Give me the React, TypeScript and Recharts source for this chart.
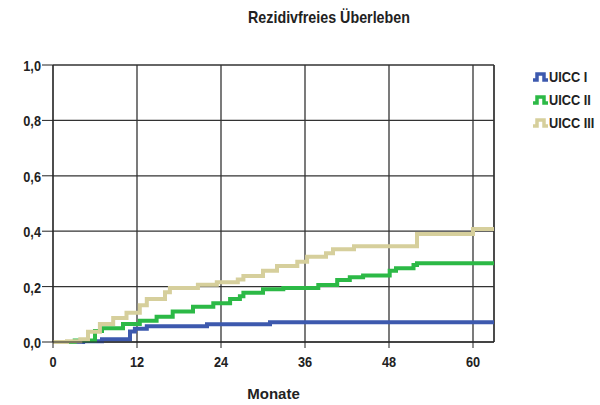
import {
  LineChart,
  Line,
  XAxis,
  YAxis,
  CartesianGrid,
  ReferenceLine,
} from "recharts";

// Monate / kumulative Rezidivrate (1 - rezidivfreies Überleben)
const uicc1Months = [0, 4.3, 7, 11, 11.7, 13.4, 22, 31, 63];
const uicc1Values = [0, 0.003, 0.01, 0.038, 0.048, 0.057, 0.064, 0.071, 0.071];

const uicc2Months = [
  0, 3.1, 6, 7, 10, 12.4, 14.8, 17.1, 20, 22.9, 25.3, 26.7, 27.2, 30, 32.9,
  37.9, 40.6, 42.4, 44.3, 48.1, 49, 51.5, 52, 63,
];
const uicc2Values = [
  0, 0.005, 0.04, 0.05, 0.065, 0.077, 0.091, 0.11, 0.127, 0.14, 0.155, 0.165,
  0.178, 0.19, 0.195, 0.206, 0.224, 0.234, 0.24, 0.257, 0.266, 0.278, 0.284,
  0.284,
];

const uicc3Months = [
  0, 2, 3.9, 5, 6.7, 8.6, 10.5, 12.4, 13.4, 16, 16.7, 20.7, 23.4, 26.4, 27.2,
  30, 32, 34.9, 36.3, 39, 40, 43, 52, 60, 63,
];
const uicc3Values = [
  0, 0.003, 0.01, 0.037, 0.065, 0.087, 0.106, 0.133, 0.155, 0.18, 0.195, 0.207,
  0.216, 0.226, 0.238, 0.257, 0.274, 0.29, 0.308, 0.32, 0.335, 0.346, 0.39,
  0.408, 0.408,
];

const xTicks = [0, 12, 24, 36, 48, 60];
const yTicks = [0, 0.2, 0.4, 0.6, 0.8, 1];

const toPoints = (months: number[], values: number[]) =>
  months.map((m, i) => ({ month: m, value: values[i] }));

const SERIES = [
  { name: "UICC I", color: "#3D59AE", data: toPoints(uicc1Months, uicc1Values) },
  { name: "UICC II", color: "#2CB946", data: toPoints(uicc2Months, uicc2Values) },
  { name: "UICC III", color: "#D6CF9C", data: toPoints(uicc3Months, uicc3Values) },
];

const FONT = "'Liberation Sans', Arial, sans-serif";

// schmale, fette Beschriftung wie im SPSS-Original
const NarrowTick = (props: any) => {
  const { x, y, payload, anchor, dy, fmt } = props;
  const label = fmt ? fmt(payload.value) : String(payload.value);
  return (
    <g transform={`translate(${x},${y})`}>
      <text
        transform="scale(0.85,1)"
        textAnchor={anchor}
        dy={dy}
        fill="#222"
        fontFamily={FONT}
        fontWeight="bold"
        fontSize={15}
      >
        {label}
      </text>
    </g>
  );
};

const commaFmt = (v: number) => v.toFixed(1).replace(".", ",");

const StepLegend = () => (
  <div style={{ position: "absolute", left: 532, top: 65 }}>
    {SERIES.map((s) => (
      <div
        key={s.name}
        style={{ display: "flex", alignItems: "center", height: 23 }}
      >
        <svg width={17} height={12}>
          <path
            d="M1,9 H5 V3 H12 V9 H16"
            fill="none"
            stroke={s.color}
            strokeWidth={3.5}
          />
        </svg>
        <span
          style={{
            fontFamily: FONT,
            fontWeight: "bold",
            fontSize: 15,
            color: "#222",
            display: "inline-block",
            transform: "scaleX(0.85)",
            transformOrigin: "left center",
            whiteSpace: "nowrap",
          }}
        >
          {s.name}
        </span>
      </div>
    ))}
  </div>
);

export default function App() {
  return (
    <div
      style={{
        position: "absolute",
        left: 0,
        top: 0,
        width: 600,
        height: 405,
        background: "#fff",
      }}
    >
      <div
        style={{
          position: "absolute",
          left: 229,
          top: 8,
          width: 200,
          textAlign: "center",
          fontFamily: FONT,
          fontWeight: "bold",
          fontSize: 17,
          color: "#222",
          transform: "scaleX(0.84)",
          whiteSpace: "nowrap",
        }}
      >
        Rezidivfreies Überleben
      </div>
      <LineChart
        width={600}
        height={405}
        margin={{ top: 65, right: 106, bottom: 0, left: 0 }}
      >
        <CartesianGrid stroke="#333" strokeWidth={1.3} />
        <XAxis
          type="number"
          dataKey="month"
          domain={[0, 63]}
          ticks={xTicks}
          allowDataOverflow
          height={63}
          tickSize={6}
          tickMargin={6}
          stroke="#222"
          tick={<NarrowTick anchor="middle" dy={13} />}
          label={{
            value: "Monate",
            position: "insideBottom",
            offset: 6,
            fill: "#222",
            fontFamily: FONT,
            fontWeight: "bold",
            fontSize: 15,
          }}
        />
        <YAxis
          type="number"
          domain={[0, 1]}
          ticks={yTicks}
          width={53}
          tickSize={11}
          tickMargin={1}
          stroke="#222"
          tick={<NarrowTick anchor="end" dy={6} fmt={commaFmt} />}
        />
        <ReferenceLine x={63} stroke="#333" strokeWidth={1.3} />
        {SERIES.map((s) => (
          <Line
            key={s.name}
            data={s.data}
            dataKey="value"
            name={s.name}
            type="stepAfter"
            stroke={s.color}
            strokeWidth={4}
            dot={false}
            activeDot={false}
            isAnimationActive={false}
          />
        ))}
      </LineChart>
      <StepLegend />
    </div>
  );
}
